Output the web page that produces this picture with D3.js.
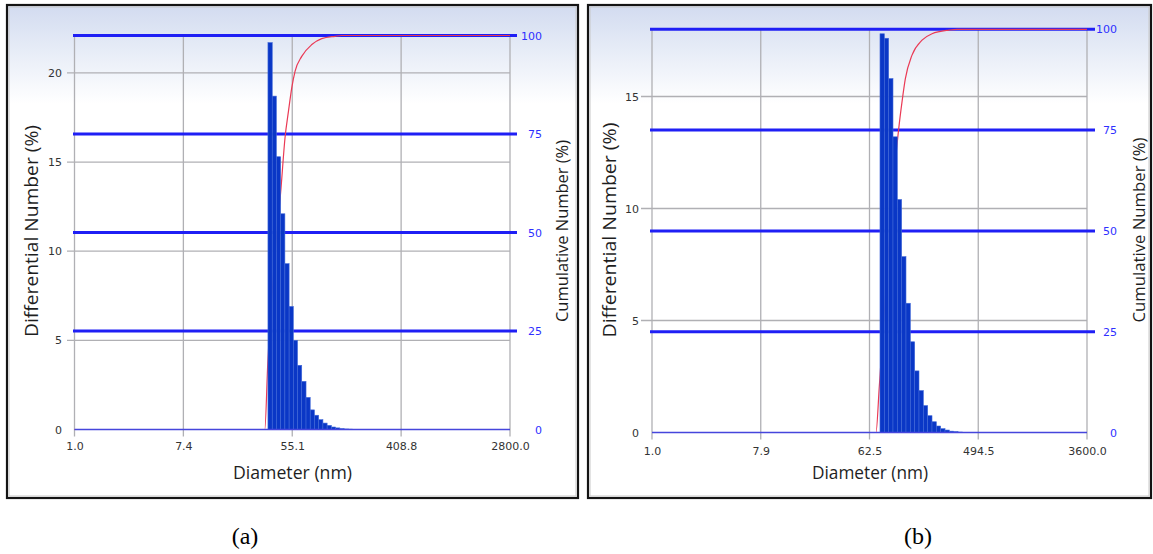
<!DOCTYPE html>
<html>
<head>
<meta charset="utf-8">
<script src="https://cdn.jsdelivr.net/npm/d3@7"></script>
<style>
  html, body { margin: 0; padding: 0; background: #ffffff; }
  svg { display: block; }
</style>
</head>
<body>
<svg id="chart" width="1153" height="554"></svg>
<script>
// ---------- sample (a) ----------
const diamTicksA  = [1.0, 7.4, 55.1, 408.8, 2800.0];
const diamLabelsA = ["1.0", "7.4", "55.1", "408.8", "2800.0"];
const binEdgesA   = [35.2, 38.1, 41.1, 44.5, 48.1, 52.0, 56.2, 60.7, 65.6, 71.0, 76.7,
                     82.9, 89.6, 96.9, 104.7, 113.2, 122.4, 132.3, 143.0, 154.6, 167.1, 180.6];
const diffNumA    = [21.7, 18.7, 15.3, 12.1, 9.3, 6.9, 5.0, 3.6, 2.7, 1.8, 1.1,
                     0.8, 0.55, 0.36, 0.23, 0.14, 0.09, 0.05, 0.03, 0.02, 0.01];
const cumDiamA    = [1.0, 33.2, 35.1, 39.5, 44.8, 48.2, 51.4, 54.6, 58.0, 65.6, 79.0, 94.8, 121.1, 137.1, 2800.0];
const cumNumA     = [0, 0, 16.9, 42.0, 61.3, 74.0, 80.8, 86.7, 90.9, 94.7, 97.7, 99.2, 99.8, 100, 100];
const diffTicksA  = [0, 5, 10, 15, 20];
const diffMaxA    = 22.1;

// ---------- sample (b) ----------
const diamTicksB  = [1.0, 7.9, 62.5, 494.5, 3600.0];
const diamLabelsB = ["1.0", "7.9", "62.5", "494.5", "3600.0"];
const binEdgesB   = [76.3, 82.9, 90.0, 97.7, 106.1, 115.2, 125.1, 135.9, 147.6, 160.2,
                     174.0, 189.0, 205.2, 222.8, 242.0, 262.8, 285.3, 309.9, 336.5, 365.4];
const diffNumB    = [17.8, 17.6, 15.8, 13.2, 10.4, 7.85, 5.77, 4.05, 2.75, 1.87,
                     1.2, 0.75, 0.48, 0.29, 0.17, 0.11, 0.06, 0.04, 0.02];
const cumDiamB    = [1.0, 70.7, 75.3, 82.0, 89.4, 97.0, 103.5, 108.9, 116.0, 123.5, 140.3, 169.7, 205.2, 281.9, 330.0, 3600.0];
const cumNumB     = [0, 0, 11.4, 28.0, 44.5, 58.0, 68.8, 75.3, 82.0, 87.7, 93.6, 97.3, 98.9, 99.8, 100, 100];
const diffTicksB  = [0, 5, 10, 15];
const diffMaxB    = 18.0;

// cumulative axis (shared)
const cumTicks = [0, 25, 50, 75, 100];

// ---------- layout of the two instrument panels ----------
const panels = [
  {
    id: "a", caption: "(a)",
    diamTicks: diamTicksA, diamLabels: diamLabelsA, edges: binEdgesA, diff: diffNumA,
    cumDiam: cumDiamA, cum: cumNumA, diffTicks: diffTicksA, diffMax: diffMaxA,
    frame: { x: 7, y: 5, w: 571, h: 493 },
    x0: 74.5, x1: 510, yTop: 35.5, yZero: 429.5,
    gridX0: 67, blueX0: 73, blueX1: 517, rightLabelX: 542,
    leftPad: 12.5, bottomPad: 12.5,
    yTitle: { x: 37.5, y: 231, len: 212 },
    rTitle: { x: 568, y: 231, len: 182 },
    xTitle: { x: 292.5, y: 479, len: 119 },
    capX: 245
  },
  {
    id: "b", caption: "(b)",
    diamTicks: diamTicksB, diamLabels: diamLabelsB, edges: binEdgesB, diff: diffNumB,
    cumDiam: cumDiamB, cum: cumNumB, diffTicks: diffTicksB, diffMax: diffMaxB,
    frame: { x: 588, y: 5, w: 563, h: 493 },
    x0: 652, x1: 1087, yTop: 29.3, yZero: 432.5,
    gridX0: 641, blueX0: 650, blueX1: 1095, rightLabelX: 1117,
    leftPad: 13, bottomPad: 14.5,
    yTitle: { x: 616, y: 230, len: 215 },
    rTitle: { x: 1145, y: 230, len: 185 },
    xTitle: { x: 870, y: 479, len: 116 },
    capX: 918
  }
];

const svg = d3.select("#chart");
const defs = svg.append("defs");
const grad = defs.append("linearGradient")
  .attr("id", "panelBg").attr("x1", 0).attr("y1", 0).attr("x2", 0).attr("y2", 1);
grad.append("stop").attr("offset", "0").attr("stop-color", "#d2dbf0");
grad.append("stop").attr("offset", "0.08").attr("stop-color", "#e4eaf6");
grad.append("stop").attr("offset", "0.2").attr("stop-color", "#ffffff");
grad.append("stop").attr("offset", "1").attr("stop-color", "#ffffff");

const tickFont = "'DejaVu Sans', Verdana, sans-serif";
const titleFont = "'Open Sans', 'Noto Sans', sans-serif";

panels.forEach(p => {
  const g = svg.append("g").attr("class", "panel-" + p.id);

  // frame and background
  g.append("rect")
    .attr("x", p.frame.x).attr("y", p.frame.y)
    .attr("width", p.frame.w).attr("height", p.frame.h)
    .attr("fill", "url(#panelBg)")
    .attr("stroke", "#141414").attr("stroke-width", 2.2);
  g.append("rect")
    .attr("x", p.frame.x + 2).attr("y", p.frame.y + 2)
    .attr("width", p.frame.w - 4).attr("height", p.frame.h - 4)
    .attr("fill", "none").attr("stroke", "#c8c8c8").attr("stroke-width", 1);

  // log diameter axis: the labelled diameters sit at equal spacing
  const step = (p.x1 - p.x0) / (p.diamTicks.length - 1);
  const x = d3.scaleLog()
    .domain(p.diamTicks)
    .range(p.diamTicks.map((d, i) => p.x0 + i * step));
  const yL = d3.scaleLinear().domain([0, p.diffMax]).range([p.yZero, p.yTop]);
  const yR = d3.scaleLinear().domain([0, 100]).range([p.yZero, p.yTop]);

  // grey grid
  const grid = g.append("g").attr("stroke", "#b0b0b4").attr("stroke-width", 1.3);
  grid.selectAll("line.h").data(p.diffTicks.filter(d => d > 0)).join("line")
    .attr("class", "h")
    .attr("x1", p.gridX0).attr("x2", p.x1)
    .attr("y1", d => yL(d)).attr("y2", d => yL(d));
  grid.selectAll("line.v").data(p.diamTicks).join("line")
    .attr("class", "v")
    .attr("x1", d => x(d)).attr("x2", d => x(d))
    .attr("y1", p.yTop).attr("y2", p.yZero + 7);

  // blue cumulative reference lines
  g.append("g").selectAll("line").data(cumTicks.filter(d => d > 0)).join("line")
    .attr("x1", p.blueX0).attr("x2", p.blueX1)
    .attr("y1", d => yR(d)).attr("y2", d => yR(d))
    .attr("stroke", "#1f1ff5").attr("stroke-width", 3);

  // cumulative curve (drawn beneath the bars)
  const cumPts = p.cumDiam.map((d, i) => [d, p.cum[i]]);
  g.append("path")
    .datum(cumPts)
    .attr("fill", "none")
    .attr("stroke", "#ea3a55").attr("stroke-width", 1.2)
    .attr("d", d3.line().x(d => x(d[0])).y(d => yR(d[1])).curve(d3.curveMonotoneX));

  // differential histogram
  g.append("g").selectAll("rect").data(p.diff).join("rect")
    .attr("x", (d, i) => x(p.edges[i]))
    .attr("width", (d, i) => x(p.edges[i + 1]) - x(p.edges[i]))
    .attr("y", d => yL(d))
    .attr("height", d => yL(0) - yL(d))
    .attr("fill", "#0a37c6")
    .attr("stroke", "#4068d8").attr("stroke-width", 0.6);

  // zero line
  g.append("line")
    .attr("x1", p.x0).attr("x2", p.x1)
    .attr("y1", yR(0)).attr("y2", yR(0))
    .attr("stroke", "#4646dc").attr("stroke-width", 1.3);

  // axes (labels only)
  const ax = g.append("g")
    .attr("transform", `translate(0,${p.yZero})`)
    .call(d3.axisBottom(x).tickValues(p.diamTicks)
      .tickFormat((d, i) => p.diamLabels[i]).tickSize(0).tickPadding(p.bottomPad));
  const ay = g.append("g")
    .attr("transform", `translate(${p.x0},0)`)
    .call(d3.axisLeft(yL).tickValues(p.diffTicks).tickFormat(d3.format("d"))
      .tickSize(0).tickPadding(p.leftPad));
  const ar = g.append("g")
    .attr("transform", `translate(${p.rightLabelX},0)`)
    .call(d3.axisLeft(yR).tickValues(cumTicks).tickFormat(d3.format("d"))
      .tickSize(0).tickPadding(0));
  [ax, ay, ar].forEach(a => {
    a.select(".domain").remove();
    a.selectAll("text").attr("font-family", tickFont).attr("font-size", 11);
  });
  ax.selectAll("text").attr("fill", "#333333");
  ay.selectAll("text").attr("fill", "#333333");
  ar.selectAll("text").attr("fill", "#2f2fff");

  // titles
  g.append("text")
    .attr("transform", `translate(${p.yTitle.x},${p.yTitle.y}) rotate(-90)`)
    .attr("text-anchor", "middle")
    .attr("font-family", titleFont).attr("font-size", 18).attr("fill", "#1e1e1e")
    .attr("textLength", p.yTitle.len).attr("lengthAdjust", "spacingAndGlyphs")
    .text("Differential Number (%)");
  g.append("text")
    .attr("transform", `translate(${p.rTitle.x},${p.rTitle.y}) rotate(-90)`)
    .attr("text-anchor", "middle")
    .attr("font-family", titleFont).attr("font-size", 16).attr("fill", "#1e1e1e")
    .attr("textLength", p.rTitle.len).attr("lengthAdjust", "spacingAndGlyphs")
    .text("Cumulative Number (%)");
  g.append("text")
    .attr("x", p.xTitle.x).attr("y", p.xTitle.y)
    .attr("text-anchor", "middle")
    .attr("font-family", titleFont).attr("font-size", 19).attr("fill", "#1e1e1e")
    .attr("textLength", p.xTitle.len).attr("lengthAdjust", "spacingAndGlyphs")
    .text("Diameter (nm)");

  // caption below the panel
  svg.append("text")
    .attr("x", p.capX).attr("y", 544)
    .attr("text-anchor", "middle")
    .attr("font-family", "'Liberation Serif', 'Times New Roman', serif")
    .attr("font-size", 24).attr("fill", "#000")
    .text(p.caption);
});
</script>
</body>
</html>
